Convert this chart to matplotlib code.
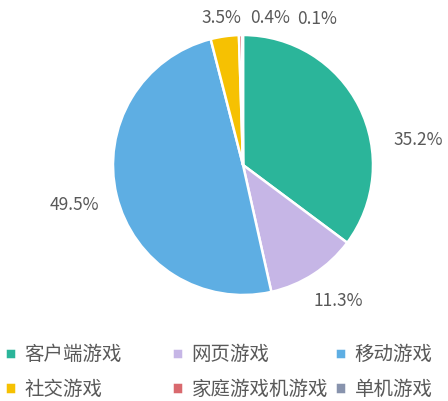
import matplotlib
matplotlib.use('Agg')
import matplotlib.pyplot as plt

plt.rcParams['font.family'] = ['Noto Sans CJK SC', 'DejaVu Sans']

# data
categories = ['客户端游戏', '网页游戏', '移动游戏', '社交游戏', '家庭游戏机游戏', '单机游戏']
shares = [35.2, 11.3, 49.5, 3.5, 0.4, 0.1]
colors = ['#2bb59a', '#c6b6e6', '#5eaee3', '#f6c102', '#d9696e', '#8893ad']

# label positions in pie units (radius = 1)
label_pos = [(1.35, 0.19), (0.73, -1.05), (-1.30, -0.31),
             (-0.17, 1.13), (0.21, 1.13), (0.57, 1.12)]

fig = plt.figure(figsize=(4.48, 4.01), dpi=100)
cx, cy, r = 243, 165, 130
ax = fig.add_axes([(cx - r) / 448, 1 - (cy + r) / 401, 2 * r / 448, 2 * r / 401])

wedges, _ = ax.pie(shares, colors=colors, startangle=90, counterclock=False,
                   radius=1, wedgeprops=dict(edgecolor='white', linewidth=1.8))
ax.set_xlim(-1, 1)
ax.set_ylim(-1, 1)
ax.set_aspect('equal')
ax.axis('off')

for v, (x, y) in zip(shares, label_pos):
    ax.text(x, y, f'{v}%', ha='center', va='center', fontsize=12.5,
            color='#595959', clip_on=False)

# legend: 3 columns, row-major order, one legend per column
col_x = [5 / 448, 172 / 448, 335 / 448]
for c in range(3):
    idx = [c, c + 3]
    leg = fig.legend([wedges[i] for i in idx], [categories[i] for i in idx],
                     loc='center left', bbox_to_anchor=(col_x[c], 1 - 372 / 401),
                     frameon=False, fontsize=14, handlelength=0.55,
                     handleheight=0.55, handletextpad=0.45,
                     labelspacing=0.68, borderaxespad=0, borderpad=0)
    for t in leg.get_texts():
        t.set_color('#595959')

fig.savefig('out.png', dpi=100)
